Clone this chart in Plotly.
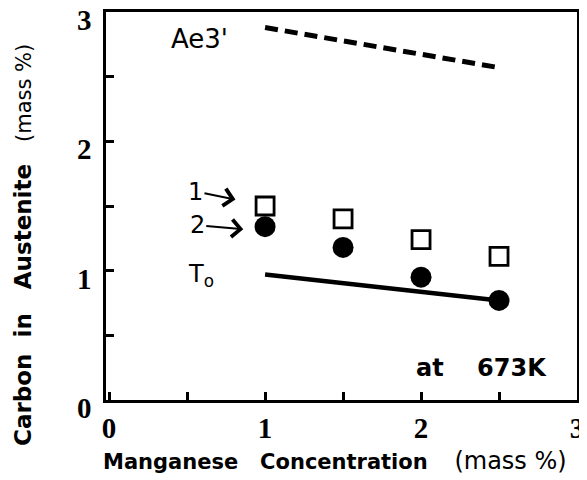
import plotly.graph_objects as go

mn = [1.0, 1.5, 2.0, 2.5]
c_open = [1.50, 1.40, 1.24, 1.11]
c_filled = [1.34, 1.18, 0.95, 0.77]
t0_x = [1.0, 2.5]
t0_y = [0.97, 0.77]
ae3_x = [1.0, 2.5]
ae3_y = [2.88, 2.57]
tick_vals = [0, 0.5, 1, 1.5, 2, 2.5, 3]
tick_text = ["0", "", "1", "", "2", "", "3"]

SANS = "DejaVu Sans, Verdana, sans-serif"
SERIF = "Liberation Serif, Times New Roman, serif"

fig = go.Figure()
fig.add_trace(go.Scatter(x=ae3_x, y=ae3_y, mode="lines",
                         line=dict(color="black", width=5, dash="13px,7px"), showlegend=False))
fig.add_trace(go.Scatter(x=t0_x, y=t0_y, mode="lines",
                         line=dict(color="black", width=4.5), showlegend=False))
fig.add_trace(go.Scatter(x=mn, y=c_open, mode="markers",
                         marker=dict(symbol="square-open", size=18, color="black",
                                     line=dict(width=2.8, color="black")), showlegend=False))
fig.add_trace(go.Scatter(x=mn, y=c_filled, mode="markers",
                         marker=dict(symbol="circle", size=21, color="black"), showlegend=False))

tickfont = dict(family=SERIF, size=29, color="black", weight="bold")
common = dict(tickvals=tick_vals, ticktext=tick_text, ticks="inside",
              ticklen=8, tickwidth=2.5, tickcolor="black", showline=True, linewidth=2.5,
              linecolor="black", mirror=True, showgrid=False, zeroline=False,
              tickfont=tickfont, ticklabeloverflow="allow", automargin=False)
fig.update_xaxes(**common, range=[-0.02, 3])
fig.update_yaxes(**common, range=[0, 3], ticklabelshift=8, ticklabelstandoff=6)

afont = dict(family=SANS, size=24, color="black")
fig.add_annotation(x=0.577, y=2.79, text="Ae3'", showarrow=False,
                   font=dict(family=SANS, size=26, color="black"))
fig.add_annotation(x=0.59, y=0.96, text="T<sub>o</sub>", showarrow=False, font=afont)
fig.add_annotation(x=0.81, y=1.55, text="1", showarrow=True, ax=-40, ay=-8,
                   arrowhead=4, arrowsize=1.7, arrowwidth=2, arrowcolor="black", font=afont)
fig.add_annotation(x=0.86, y=1.32, text="2", showarrow=True, ax=-46, ay=-4,
                   arrowhead=4, arrowsize=1.7, arrowwidth=2, arrowcolor="black", font=afont)
fig.add_annotation(x=2.385, y=0.25, text="<b>at&nbsp;&nbsp;&nbsp;&nbsp;673K</b>", showarrow=False,
                   font=dict(family=SANS, size=24, color="black"))

# axis titles
fig.add_annotation(xref="paper", yref="paper", x=0.487, y=-0.158, xanchor="center", yanchor="middle",
                   text="<b>Manganese&nbsp;&nbsp;&nbsp;Concentration</b>&nbsp;&nbsp;&nbsp;&nbsp;"
                        "<span style='font-size:24px'>(mass %)</span>",
                   showarrow=False, font=dict(family=SANS, size=21, color="black"))
fig.add_annotation(xref="paper", yref="paper", x=-0.176, y=0.40, xanchor="center", yanchor="middle",
                   textangle=-90,
                   text="<b>Carbon&nbsp;&nbsp;in&nbsp;&nbsp;&nbsp;Austenite</b>&nbsp;&nbsp;&nbsp;"
                        "<span style='font-size:21px;font-weight:normal'>(mass %)</span>",
                   showarrow=False, font=dict(family=SANS, size=23, color="black"))

# the page body adds an 8px offset; size the figure so it fits the 587x480 window
fig.update_layout(width=579, height=472, margin=dict(l=98, r=10, t=4, b=80),
                  plot_bgcolor="white", paper_bgcolor="white")
fig.write_html("out.html")
